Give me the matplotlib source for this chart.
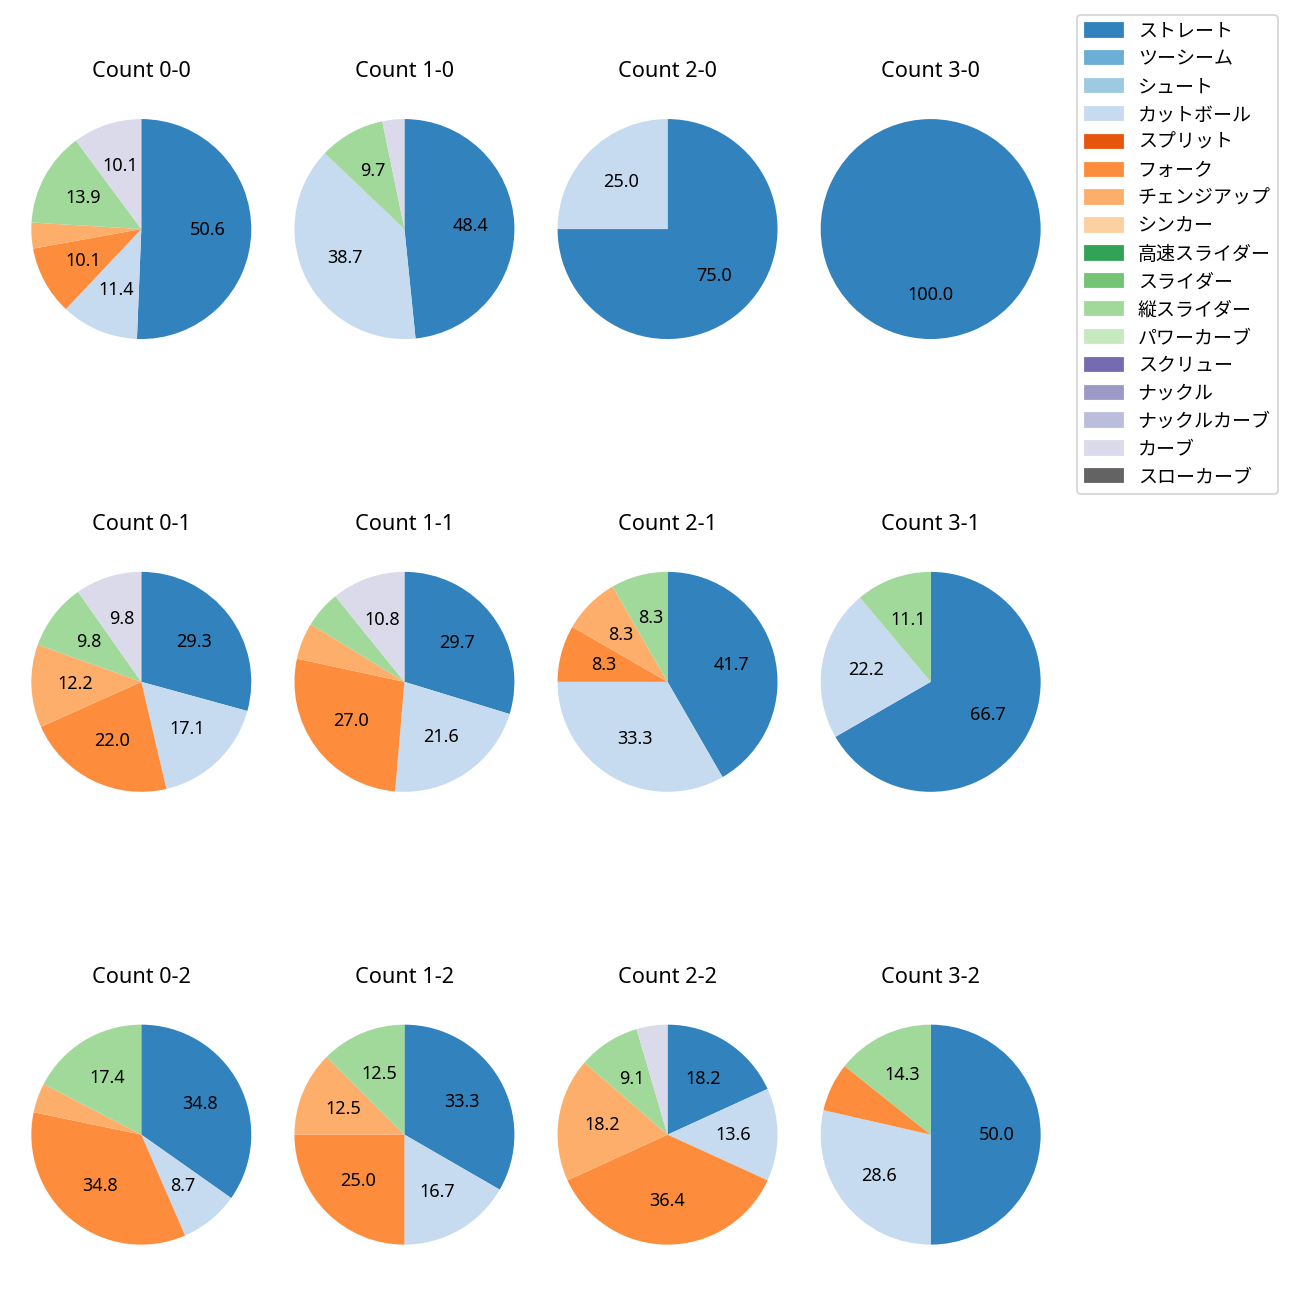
import matplotlib.pyplot as plt
from matplotlib.patches import Patch

plt.rcParams['font.family'] = ['Noto Sans', 'Noto Sans CJK JP', 'DejaVu Sans']

pitch_types = ['ストレート', 'ツーシーム', 'シュート', 'カットボール', 'スプリット', 'フォーク',
               'チェンジアップ', 'シンカー', '高速スライダー', 'スライダー', '縦スライダー',
               'パワーカーブ', 'スクリュー', 'ナックル', 'ナックルカーブ', 'カーブ', 'スローカーブ']

# number of pitches per type (same order as pitch_types), one list per ball-strike count
count_0_0 = [40, 0, 0, 9, 0, 8, 3, 0, 0, 0, 11, 0, 0, 0, 0, 8, 0]
count_1_0 = [15, 0, 0, 12, 0, 0, 0, 0, 0, 0, 3, 0, 0, 0, 0, 1, 0]
count_2_0 = [3, 0, 0, 1, 0, 0, 0, 0, 0, 0, 0, 0, 0, 0, 0, 0, 0]
count_3_0 = [2, 0, 0, 0, 0, 0, 0, 0, 0, 0, 0, 0, 0, 0, 0, 0, 0]
count_0_1 = [12, 0, 0, 7, 0, 9, 5, 0, 0, 0, 4, 0, 0, 0, 0, 4, 0]
count_1_1 = [11, 0, 0, 8, 0, 10, 2, 0, 0, 0, 2, 0, 0, 0, 0, 4, 0]
count_2_1 = [5, 0, 0, 4, 0, 1, 1, 0, 0, 0, 1, 0, 0, 0, 0, 0, 0]
count_3_1 = [6, 0, 0, 2, 0, 0, 0, 0, 0, 0, 1, 0, 0, 0, 0, 0, 0]
count_0_2 = [8, 0, 0, 2, 0, 8, 1, 0, 0, 0, 4, 0, 0, 0, 0, 0, 0]
count_1_2 = [8, 0, 0, 4, 0, 6, 3, 0, 0, 0, 3, 0, 0, 0, 0, 0, 0]
count_2_2 = [4, 0, 0, 3, 0, 8, 4, 0, 0, 0, 2, 0, 0, 0, 0, 1, 0]
count_3_2 = [7, 0, 0, 4, 0, 1, 0, 0, 0, 0, 2, 0, 0, 0, 0, 0, 0]

grid = [
    [count_0_0, count_1_0, count_2_0, count_3_0],
    [count_0_1, count_1_1, count_2_1, count_3_1],
    [count_0_2, count_1_2, count_2_2, count_3_2],
]

colors = plt.cm.tab20c(range(len(pitch_types)))

fig = plt.figure(figsize=(10, 10), dpi=130)
size = 0.2115

for strikes, row in enumerate(grid):
    for balls, vals in enumerate(row):
        cx = 0.1087 + 0.2024 * balls
        cy = 0.8238 - 0.3483 * strikes
        ax = fig.add_axes([cx - size / 2, cy - size / 2, size, size])
        idx = [i for i, v in enumerate(vals) if v > 0]
        ax.pie([vals[i] for i in idx], colors=[colors[i] for i in idx],
               startangle=90, counterclock=False,
               autopct=lambda p: f'{p:.1f}' if p >= 8 else '')
        ax.set_title(f'Count {balls}-{strikes}', pad=8)

handles = [Patch(color=colors[i]) for i in range(len(pitch_types))]
fig.legend(handles, pitch_types, loc='upper left', fontsize=10.5, labelspacing=0.52,
           bbox_to_anchor=(1077 / 1300, 1 - 15 / 1300), borderaxespad=0)

plt.savefig('out.png', dpi=130)
